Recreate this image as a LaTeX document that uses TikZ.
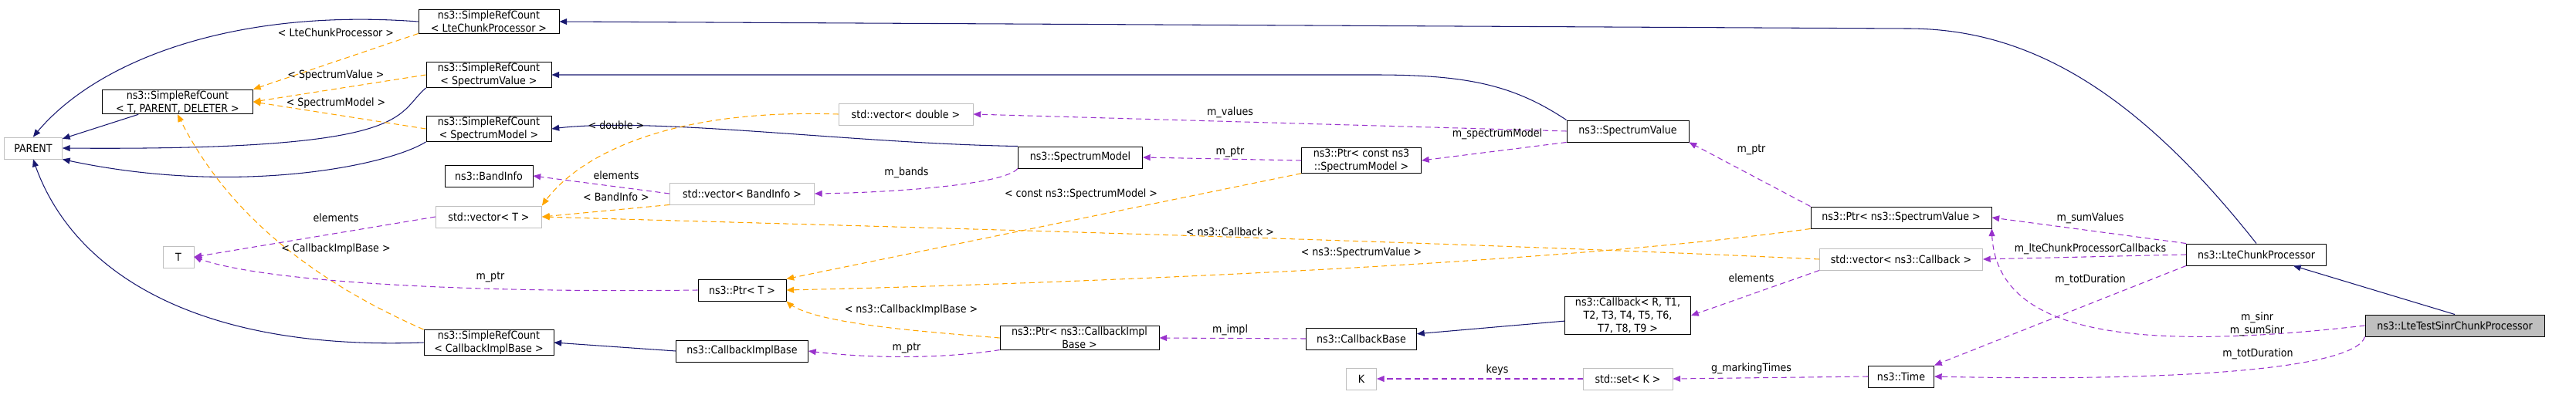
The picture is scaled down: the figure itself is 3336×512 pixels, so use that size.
\documentclass[tikz,border=0pt]{standalone}
\usepackage{fontspec}
\setmainfont{DejaVu Sans Condensed}
\usetikzlibrary{arrows,shapes}
\definecolor{navy}{RGB}{25,25,112}
\definecolor{tmpl}{RGB}{255,165,0}
\definecolor{usage}{RGB}{153,50,204}
\definecolor{boxgray}{RGB}{191,191,191}
\begin{document}
\begin{tikzpicture}[x=0.03cm,y=-0.03cm,
  font=\fontsize{12}{14.5}\selectfont,
  cls/.style={draw=black, line width=0.8pt, inner sep=1pt, minimum height=0.84cm, align=center},
  ext/.style={cls, draw=boxgray},
  hl/.style={cls, fill=boxgray},
  inh/.style={draw=navy, line width=0.9pt, -triangle 45},
  tpl/.style={draw=tmpl, line width=0.9pt, dash pattern=on 6pt off 4pt, -triangle 45},
  use/.style={draw=usage, line width=0.9pt, dash pattern=on 6pt off 4pt, -triangle 45},
  lbl/.style={inner sep=0pt, align=center}]
\useasboundingbox (0,0) rectangle (3336,512);
% classes
\node [ext, minimum width=2.25cm] (parent) at (43,192) {PARENT};
\node [cls, minimum width=5.85cm] (srct) at (230,132) {ns3::SimpleRefCount\\< T, PARENT, DELETER >};
\node [cls, minimum width=5.46cm] (srclcp) at (633,28) {ns3::SimpleRefCount\\< LteChunkProcessor >};
\node [cls, minimum width=4.86cm] (srcsv) at (633,97) {ns3::SimpleRefCount\\< SpectrumValue >};
\node [cls, minimum width=4.86cm] (srcsm) at (633,167) {ns3::SimpleRefCount\\< SpectrumModel >};
\node [cls, minimum width=3.42cm] (band) at (633,228) {ns3::BandInfo};
\node [ext, minimum width=4.11cm] (vect) at (633,281) {std::vector< T >};
\node [ext, minimum width=1.2cm] (t) at (231,333) {T};
\node [cls, minimum width=5.04cm] (srccib) at (633,444) {ns3::SimpleRefCount\\< CallbackImplBase >};
\node [ext, minimum width=5.61cm] (vecband) at (961,251) {std::vector< BandInfo >};
\node [cls, minimum width=3.42cm] (ptrt) at (961,376) {ns3::Ptr< T >};
\node [cls, minimum width=5.13cm] (cib) at (961,455) {ns3::CallbackImplBase};
\node [ext, minimum width=5.22cm] (vecdbl) at (1173,148) {std::vector< double >};
\node [cls, minimum width=4.83cm] (sm) at (1399,204) {ns3::SpectrumModel};
\node [cls, minimum width=6.18cm] (ptrcib) at (1398,438) {ns3::Ptr< ns3::CallbackImpl\\Base >};
\node [cls, minimum width=4.65cm] (ptrcsm) at (1763,208) {ns3::Ptr< const ns3\\::SpectrumModel >};
\node [cls, minimum width=4.29cm] (cbb) at (1763,439) {ns3::CallbackBase};
\node [ext, minimum width=1.17cm] (k) at (1763,491) {K};
\node [cls, minimum width=4.74cm] (sv) at (2108,170) {ns3::SpectrumValue};
\node [cls, minimum width=4.89cm] (cbr) at (2108,409) {ns3::Callback< R, T1,\\T2, T3, T4, T5, T6,\\T7, T8, T9 >};
\node [ext, minimum width=3.48cm] (set) at (2108,491) {std::set< K >};
\node [cls, minimum width=7.02cm] (ptrsv) at (2462,282) {ns3::Ptr< ns3::SpectrumValue >};
\node [ext, minimum width=6.33cm] (veccb) at (2462,336) {std::vector< ns3::Callback >};
\node [cls, minimum width=2.55cm] (time) at (2462,488) {ns3::Time};
\node [cls, minimum width=5.43cm] (lcp) at (2922,330) {ns3::LteChunkProcessor};
\node [hl, minimum width=6.96cm] (sinr) at (3179,422) {ns3::LteTestSinrChunkProcessor};
% inheritance
\draw [inh] (sinr.north) -- (lcp);
\draw [inh] (lcp.north) .. controls (2760,110) and (2620,37) .. (2470,37) -- (srclcp.east);
\draw [inh] (sv.north west) .. controls (1960,110) and (1900,97) .. (1780,97) -- (srcsv.east);
\draw [inh] (sm.north west) .. controls (1100,186) and (840,150) .. (srcsm.east);
\draw [inh] (cbr) -- (cbb);
\draw [inh] (cib.west) -- (srccib.east);
\draw [inh] (srclcp.west) .. controls (300,10) and (120,80) .. (parent.north);
\draw [inh] (srct) -- (parent);
\draw [inh] (srcsv.south west) .. controls (510,150) and (540,196) .. (parent.east);
\draw [inh] (srcsm.south west) .. controls (500,216) and (300,255) .. (parent.south east);
\draw [inh] (srccib.west) .. controls (250,455) and (90,350) .. (parent.south);
% template instances
\draw [tpl] (srclcp.south west) -- (srct.north east);
\node [lbl] (l1) at (435,42) {< LteChunkProcessor >};
\draw [tpl] (srcsv.west) -- (srct.east);
\node [lbl] (l2) at (435,98) {< SpectrumValue >};
\draw [tpl] (srcsm.west) -- (srct.east);
\node [lbl] (l3) at (435,134) {< SpectrumModel >};
\draw [tpl] (srccib.north west) .. controls (350,340) and (270,230) .. (srct.south);
\node [lbl] (l4) at (435,323) {< CallbackImplBase >};
\draw [tpl] (vecdbl.west) .. controls (850,140) and (740,210) .. (vect.north east);
\node [lbl] (l5) at (798,162) {< double >};
\draw [tpl] (vecband.south west) -- (vect.east);
\node [lbl] (l6) at (798,255) {< BandInfo >};
\draw [tpl] (veccb.west) .. controls (1800,310) and (1000,290) .. (vect.east);
\node [lbl] (l7) at (1593,300) {< ns3::Callback >};
\draw [tpl] (ptrcsm.south west) -- (ptrt.north east);
\node [lbl] (l8) at (1400,252) {< const ns3::SpectrumModel >};
\draw [tpl] (ptrsv.south west) .. controls (2000,345) and (1300,370) .. (ptrt.east);
\node [lbl] (l9) at (1763,328) {< ns3::SpectrumValue >};
\draw [tpl] (ptrcib.west) .. controls (1200,430) and (1050,420) .. (ptrt.south east);
\node [lbl] (l10) at (1180,402) {< ns3::CallbackImplBase >};
% usage
\draw [use] (vect.west) -- (t.east);
\node [lbl] (u1) at (435,282) {elements};
\draw [use] (ptrt.west) .. controls (600,380) and (330,365) .. (t.east);
\node [lbl] (u2) at (635,359) {m\_ptr};
\draw [use] (vecband.west) -- (band.east);
\node [lbl] (u3) at (798,227) {elements};
\draw [use] (sm.south west) .. controls (1300,240) and (1150,250) .. (vecband.east);
\node [lbl] (u4) at (1174,224) {m\_bands};
\draw [use] (ptrcsm.west) -- (sm.east);
\node [lbl] (u5) at (1593,197) {m\_ptr};
\draw [use] (sv.west) -- (vecdbl.east);
\node [lbl] (u6) at (1593,146) {m\_values};
\draw [use] (sv.south west) -- (ptrcsm.east);
\node [lbl] (u7) at (1939,174) {m\_spectrumModel};
\draw [use] (ptrsv.north west) -- (sv.south east);
\node [lbl] (u8) at (2268,194) {m\_ptr};
\draw [use] (lcp.north west) -- (ptrsv.east);
\node [lbl] (u9) at (2707,283) {m\_sumValues};
\draw [use] (lcp.west) -- (veccb.east);
\node [lbl] (u10) at (2707,323) {m\_lteChunkProcessorCallbacks};
\draw [use] (lcp.south west) -- (time.north east);
\node [lbl] (u11) at (2707,363) {m\_totDuration};
\draw [use] (sinr.west) .. controls (2750,458) and (2580,430) .. (ptrsv.south east);
\node [lbl] (u12) at (2923,420) {m\_sinr\\m\_sumSinr};
\draw [use] (sinr.south west) .. controls (3050,480) and (2800,495) .. (time.east);
\node [lbl] (u13) at (2924,459) {m\_totDuration};
\draw [use] (veccb.south west) -- (cbr.east);
\node [lbl] (u14) at (2268,360) {elements};
\draw [use] (cbb.west) -- (ptrcib.east);
\node [lbl] (u15) at (1593,428) {m\_impl};
\draw [use] (ptrcib.south west) .. controls (1200,468) and (1100,462) .. (cib.east);
\node [lbl] (u16) at (1174,451) {m\_ptr};
\draw [use] (set.west) -- (k.east);
\node [lbl] (u17) at (1939,480) {keys};
\draw [use] (time.west) -- (set.east);
\node [lbl] (u18) at (2268,478) {g\_markingTimes};
\end{tikzpicture}
\end{document}
